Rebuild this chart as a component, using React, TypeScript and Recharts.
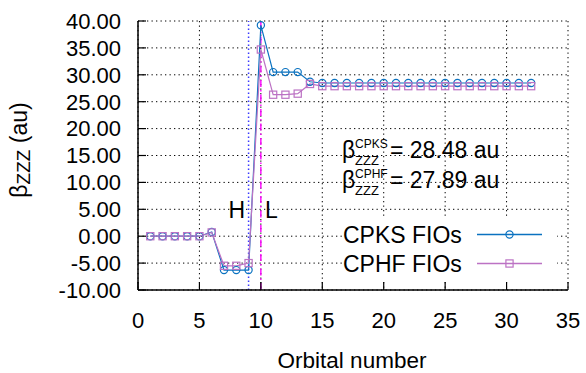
import React from 'react';
import { LineChart, Line, XAxis, YAxis, CartesianGrid, ReferenceLine, Legend, Label } from 'recharts';

const orbitals = [1, 2, 3, 4, 5, 6, 7, 8, 9, 10, 11, 12, 13, 14, 15, 16, 17, 18, 19, 20, 21, 22, 23, 24, 25, 26, 27, 28, 29, 30, 31, 32];
const cpksValues = [0, 0, 0, 0, 0, 0.8, -6.3, -6.3, -6.3, 39.2, 30.5, 30.5, 30.5, 28.7, 28.48, 28.48, 28.48, 28.48, 28.48, 28.48, 28.48, 28.48, 28.48, 28.48, 28.48, 28.48, 28.48, 28.48, 28.48, 28.48, 28.48, 28.48];
const cphfValues = [0, 0, 0, 0, 0, 0.7, -5.5, -5.5, -5.0, 34.7, 26.3, 26.3, 26.5, 28.3, 27.89, 27.89, 27.89, 27.89, 27.89, 27.89, 27.89, 27.89, 27.89, 27.89, 27.89, 27.89, 27.89, 27.89, 27.89, 27.89, 27.89, 27.89];
const xTicks = [0, 5, 10, 15, 20, 25, 30, 35];
const yTicks = [-10, -5, 0, 5, 10, 15, 20, 25, 30, 35, 40];
const homoOrbital = 9;
const lumoOrbital = 10;
const seriesNames = ['CPKS FIOs', 'CPHF FIOs'];
const betaCPKS = '28.48';
const betaCPHF = '27.89';

const rows = orbitals.map((o, i) => ({ orbital: o, cpks: cpksValues[i], cphf: cphfValues[i] }));

const FONT = '"Liberation Sans", Arial, Helvetica, sans-serif';
const BLUE = '#0a72c0';
const PURPLE = '#bc72c4';
const seriesColors = [BLUE, PURPLE];

const CircleDot = (props: any) => {
  const { cx, cy, index } = props;
  if (cx == null || cy == null) return <g key={`c${index}`} />;
  return <circle key={`c${index}`} cx={cx} cy={cy} r={3.6} fill="none" stroke={BLUE} strokeWidth={1.2} />;
};
const SquareDot = (props: any) => {
  const { cx, cy, index } = props;
  if (cx == null || cy == null) return <g key={`s${index}`} />;
  return <rect key={`s${index}`} x={cx - 3.6} y={cy - 3.6} width={7.2} height={7.2} fill="none" stroke={PURPLE} strokeWidth={1.2} />;
};

const renderLegend = () => (
  <svg width={214} height={60} style={{ display: 'block', background: '#fff' }}>
    {seriesNames.map((name, i) => {
      const rowY = 15.5 + i * 29;
      const color = seriesColors[i];
      return (
        <g key={name}>
          <text x={0} y={rowY + 8.3} fontSize={23} fontFamily={FONT} fill="#000">{name}</text>
          <line x1={134} x2={199} y1={rowY} y2={rowY} stroke={color} strokeWidth={1.5} />
          {i === 0 ? (
            <circle cx={166.5} cy={rowY} r={3.6} fill="none" stroke={color} strokeWidth={1.2} />
          ) : (
            <rect x={162.9} y={rowY - 3.6} width={7.2} height={7.2} fill="none" stroke={color} strokeWidth={1.2} />
          )}
        </g>
      );
    })}
  </svg>
);

const Annotation = ({ y, sup, value }: { y: number; sup: string; value: string }) => (
  <g fontFamily={FONT} fill="#000">
    <text x={342} y={y} fontSize={23}>β</text>
    <text x={355} y={y - 10} fontSize={12}>{sup}</text>
    <text x={355} y={y + 6.5} fontSize={13}>ZZZ</text>
    <text x={390} y={y} fontSize={23}>{`= ${value} au`}</text>
  </g>
);

export default function App() {
  return (
    <div style={{ position: 'absolute', left: 0, top: 0, width: 586, height: 373, background: '#fff' }}>
      <LineChart width={586} height={373} data={rows} margin={{ top: 21, right: 18, bottom: 0, left: 0 }}>
        <CartesianGrid stroke="#000" strokeDasharray="1.3 3.2" strokeWidth={1} />
        <XAxis
          dataKey="orbital"
          type="number"
          domain={[0, 35]}
          ticks={xTicks}
          height={83}
          tickSize={-8}
          tickMargin={30}
          axisLine={{ stroke: '#000', strokeWidth: 1.5 }}
          tickLine={{ stroke: '#000', strokeWidth: 1.2 }}
          tick={{ fill: '#000', fontSize: 22, fontFamily: FONT }}
          interval={0}
        >
          <Label
            content={() => (
              <text x={352} y={367.5} textAnchor="middle" fontSize={22.5} fontFamily={FONT} fill="#000">Orbital number</text>
            )}
          />
        </XAxis>
        <XAxis
          xAxisId="top"
          orientation="top"
          type="number"
          domain={[0, 35]}
          ticks={xTicks}
          height={0}
          tickSize={-8}
          tick={false}
          axisLine={{ stroke: '#000', strokeWidth: 1.5 }}
          tickLine={{ stroke: '#000', strokeWidth: 1.2 }}
          interval={0}
        />
        <YAxis
          type="number"
          domain={[-10, 40]}
          ticks={yTicks}
          width={138}
          tickSize={-8}
          tickMargin={25}
          tickFormatter={(v: number) => v.toFixed(2)}
          axisLine={{ stroke: '#000', strokeWidth: 1.5 }}
          tickLine={{ stroke: '#000', strokeWidth: 1.2 }}
          tick={{ fill: '#000', fontSize: 22, fontFamily: FONT }}
          interval={0}
        >
          <Label
            content={() => (
              <text transform="rotate(-90 27 150)" x={27} y={150} textAnchor="middle" fontFamily={FONT} fill="#000" fontSize={23}>
                β<tspan fontSize={19} dy={3}>ZZZ</tspan><tspan dy={-3}> (au)</tspan>
              </text>
            )}
          />
        </YAxis>
        <YAxis
          yAxisId="right"
          orientation="right"
          type="number"
          domain={[-10, 40]}
          ticks={yTicks}
          width={0}
          tickSize={-8}
          tick={false}
          axisLine={{ stroke: '#000', strokeWidth: 1.5 }}
          tickLine={{ stroke: '#000', strokeWidth: 1.2 }}
          interval={0}
        />
        <ReferenceLine x={homoOrbital} stroke="#3a3aff" strokeDasharray="1.5 2.5" strokeWidth={1.5} />
        <ReferenceLine x={lumoOrbital} stroke="#ff00ff" strokeDasharray="7 3 1.5 3" strokeWidth={1.4} />
        <Line
          name={seriesNames[0]}
          dataKey="cpks"
          type="linear"
          stroke={BLUE}
          strokeWidth={1.2}
          dot={(p: any) => <CircleDot {...p} />}
          activeDot={false}
          isAnimationActive={false}
        />
        <Line
          name={seriesNames[1]}
          dataKey="cphf"
          type="linear"
          stroke={PURPLE}
          strokeWidth={1.2}
          dot={(p: any) => <SquareDot {...p} />}
          activeDot={false}
          isAnimationActive={false}
        />
        <Legend
          layout="vertical"
          align="center"
          verticalAlign="middle"
          wrapperStyle={{ left: 343, top: 219, width: 214, height: 60 }}
          content={renderLegend}
        />
      </LineChart>
      <svg width={586} height={373} style={{ position: 'absolute', left: 0, top: 0, pointerEvents: 'none' }}>
        <Annotation y={158} sup="CPKS" value={betaCPKS} />
        <Annotation y={188} sup="CPHF" value={betaCPHF} />
        <text x={228.5} y={218} fontSize={23} fontFamily={FONT} fill="#000">H</text>
        <text x={265} y={218} fontSize={23} fontFamily={FONT} fill="#000">L</text>
      </svg>
    </div>
  );
}
